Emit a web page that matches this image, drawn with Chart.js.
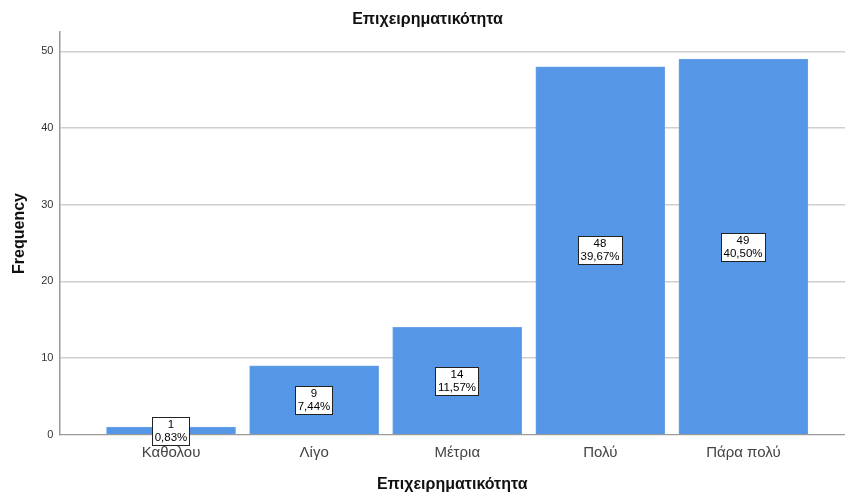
<!DOCTYPE html>
<html>
<head>
<meta charset="utf-8">
<script src="https://cdn.jsdelivr.net/npm/chart.js@4"></script>
<style>
    html, body { margin: 0; padding: 0; background: #fff; }
    #wrap { position: relative; width: 845px; height: 494px; }
</style>
</head>
<body>
<div id="wrap"><canvas id="chart"></canvas></div>
<script>
// Επιχειρηματικότητα — συχνότητες
const categories = ['Καθολου', 'Λίγο', 'Μέτρια', 'Πολύ', 'Πάρα πολύ'];
const counts = [1, 9, 14, 48, 49];
const percents = ['0,83%', '7,44%', '11,57%', '39,67%', '40,50%'];
const yTicks = [0, 10, 20, 30, 40, 50];

const FONT = 'Arial, "Liberation Sans", sans-serif';

// κουτάκια με τιμή και ποσοστό στο μέσο κάθε μπάρας
const boxLabels = {
    id: 'boxLabels',
    afterDatasetsDraw(chart) {
        const ctx = chart.ctx;
        const meta = chart.getDatasetMeta(0);
        ctx.save();
        ctx.font = '11.5px ' + FONT;
        ctx.textAlign = 'center';
        ctx.textBaseline = 'middle';
        meta.data.forEach((bar, i) => {
            const cx = Math.round(bar.x);
            const cy = Math.round((bar.y + bar.base) / 2);
            const l1 = String(counts[i]);
            const l2 = percents[i];
            const w = Math.ceil(Math.max(ctx.measureText(l1).width, ctx.measureText(l2).width)) + 4;
            const h = 28;
            const x0 = cx - Math.round(w / 2) + 0.5;
            const y0 = cy - h / 2 + 0.5;
            ctx.fillStyle = '#ffffff';
            ctx.fillRect(x0, y0, w, h);
            ctx.strokeStyle = '#222';
            ctx.lineWidth = 1;
            ctx.strokeRect(x0, y0, w, h);
            ctx.fillStyle = '#000';
            ctx.fillText(l1, cx, cy - 6);
            ctx.fillText(l2, cx, cy + 7);
        });
        ctx.restore();
    }
};

new Chart(document.getElementById('chart'), {
    type: 'bar',
    data: {
        datasets: [{
            data: counts.map((v, i) => ({ x: i, y: v })),
            backgroundColor: '#5596e6',
            borderColor: '#6aa3ea',
            borderWidth: 1,
            barThickness: 129
        }]
    },
    options: {
        responsive: true,
        maintainAspectRatio: false,
        animation: false,
        layout: { padding: { top: 4, right: 0, bottom: 0, left: 10 } },
        plugins: {
            legend: { display: false },
            tooltip: { enabled: false },
            title: {
                display: true,
                text: 'Επιχειρηματικότητα',
                color: '#111',
                font: { family: FONT, size: 16, weight: 'bold' },
                padding: { top: 6, bottom: 3 }
            }
        },
        scales: {
            x: {
                type: 'linear',
                offset: false,
                min: -0.78,
                max: 4.71,
                afterBuildTicks: s => { s.ticks = categories.map((_, i) => ({ value: i })); },
                ticks: {
                    callback: v => categories[v],
                    color: '#444',
                    font: { family: FONT, size: 15 },
                    padding: 9,
                    autoSkip: false,
                    maxRotation: 0
                },
                grid: { display: false, drawTicks: false },
                border: { display: true, color: '#9a9a9a', width: 1 },
                title: {
                    display: true,
                    text: 'Επιχειρηματικότητα',
                    color: '#111',
                    font: { family: FONT, size: 16, weight: 'bold' },
                    padding: { top: 4, bottom: 0 }
                }
            },
            y: {
                min: 0,
                max: 52.5,
                afterBuildTicks: s => { s.ticks = yTicks.map(v => ({ value: v })); },
                ticks: {
                    color: '#333',
                    font: { family: FONT, size: 11 },
                    padding: 6
                },
                grid: { color: '#cfcfcf', drawTicks: false, lineWidth: 1.5 },
                border: { display: true, color: '#9a9a9a', width: 1.5 },
                title: {
                    display: true,
                    text: 'Frequency',
                    color: '#111',
                    font: { family: FONT, size: 16, weight: 'bold' },
                    padding: { top: 0, bottom: 6 }
                }
            }
        }
    },
    plugins: [boxLabels]
});
</script>
</body>
</html>
